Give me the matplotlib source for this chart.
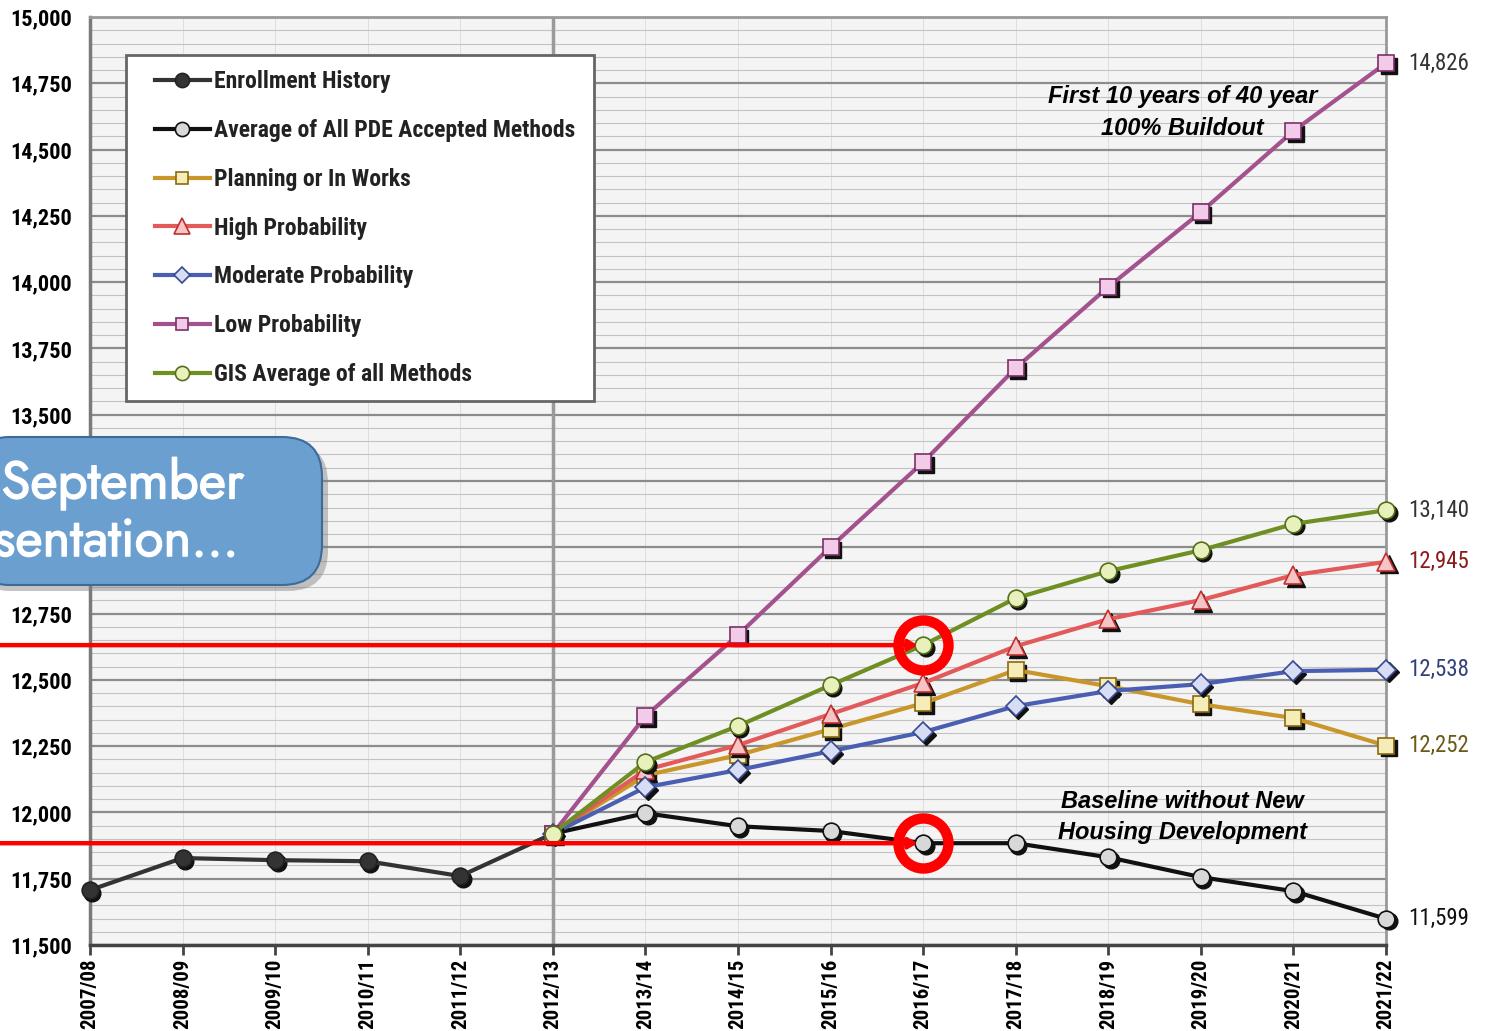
import numpy as np
import matplotlib
matplotlib.use('Agg')
import matplotlib.pyplot as plt
from matplotlib import transforms, patheffects
from matplotlib.patches import FancyBboxPatch, ConnectionPatch, Rectangle
from matplotlib.ticker import MultipleLocator, FuncFormatter

# school years on the x axis
years = ['2007/08', '2008/09', '2009/10', '2010/11', '2011/12', '2012/13', '2013/14',
         '2014/15', '2015/16', '2016/17', '2017/18', '2018/19', '2019/20', '2020/21', '2021/22']

# history runs 2007/08 - 2012/13, projections run 2012/13 - 2021/22
enrollment = [11707, 11828, 11820, 11816, 11760, 11920]
baseline = [11920, 11997, 11948, 11930, 11884, 11884, 11831, 11756, 11703, 11599]
planning = [11920, 12140, 12216, 12314, 12412, 12537, 12476, 12408, 12356, 12252]
high = [11920, 12160, 12254, 12371, 12488, 12627, 12729, 12801, 12895, 12945]
moderate = [11920, 12095, 12160, 12231, 12303, 12401, 12458, 12484, 12533, 12538]
low = [11920, 12363, 12669, 13001, 13321, 13676, 13982, 14264, 14570, 14826]
gis = [11920, 12190, 12326, 12480, 12631, 12808, 12910, 12989, 13088, 13140]

x = np.arange(len(years))
hx = x[:len(enrollment)]
px = x[len(enrollment) - 1:]
mark_year = years.index('2016/17')

narrow = ['Roboto Condensed', 'Archivo Narrow', 'DejaVu Sans']
round_font = ['Jost', 'Lato', 'DejaVu Sans']

fig = plt.figure(figsize=(14.87, 10.31), dpi=100)
ax = fig.add_axes([0.0605, 0.0834, 0.8716, 0.9001])
ax.set_facecolor('#f4f4f4')

shadow = transforms.offset_copy(ax.transData, fig=fig, x=2.5, y=-2.5, units='dots')

# (label, values, xs, line colour, marker, face colour, edge colour, label colour)
series = [
    ('Enrollment History', enrollment, hx, '#333333', 'o', '#333333', '#222222', None),
    ('Average of All PDE Accepted Methods', baseline, px, '#111111', 'o', '#d8d8d8', '#111111', '#111111'),
    ('Planning or In Works', planning, px, '#c9962c', 's', '#f6ecb8', '#8a6a10', '#6b5a18'),
    ('High Probability', high, px, '#e25a5a', '^', '#f6c4c4', '#c03030', '#8b1c1c'),
    ('Moderate Probability', moderate, px, '#4a5fb2', 'D', '#d6ddf4', '#3a4a90', '#33407a'),
    ('Low Probability', low, px, '#a4528e', 's', '#f2cbe8', '#7a3068', '#333333'),
    ('GIS Average of all Methods', gis, px, '#6f8f22', 'o', '#e8f0bc', '#55701a', '#333333'),
]
draw_order = [0, 5, 6, 3, 2, 4, 1]
sizes = {'o': 12, 's': 11, '^': 13, 'D': 10}

handles = {}
for i in draw_order:
    name, vals, xs, lc, mk, fc, ec, tc = series[i]
    ax.plot(xs, vals, ls='none', marker=mk, ms=sizes[mk], mfc='#111111', mec='#111111',
            transform=shadow, zorder=3 + i * 0.1, clip_on=False)
    h, = ax.plot(xs, vals, color=lc, lw=3, marker=mk, ms=sizes[mk], mfc=fc, mec=ec,
                 mew=1.2, label=name, zorder=3.05 + i * 0.1, clip_on=False)
    handles[i] = h
    if tc is not None:
        ax.annotate(f'{vals[-1]:,}', (xs[-1], vals[-1]), xytext=(16, 0),
                    textcoords='offset points', va='center', ha='left',
                    fontsize=16.5, color=tc, family=narrow)

# axes and grid
ax.set_xlim(x[0], x[-1])
ax.set_ylim(11500, 15000)
ax.yaxis.set_major_locator(MultipleLocator(250))
ax.yaxis.set_minor_locator(MultipleLocator(50))
ax.yaxis.set_major_formatter(FuncFormatter(lambda v, p: f'{v:,.0f}'))
ax.grid(which='major', axis='y', color='#8c8c8c', lw=1.6, zorder=0)
ax.grid(which='minor', axis='y', color='#c2c2c2', lw=0.8, zorder=0)
ax.grid(which='major', axis='x', color='#dedede', lw=0.7, zorder=0)
ax.set_axisbelow(True)
ax.axvline(x[len(enrollment) - 1], color='#9a9a9a', lw=2.5, zorder=1)

ax.set_xticks(x)
ax.set_xticklabels(years, rotation=90, fontsize=15, fontweight='bold', family=narrow)
ax.tick_params(axis='x', length=7, width=2, color='#444444', pad=3)
ax.tick_params(axis='y', which='both', length=0, pad=13)
fig.canvas.draw()
for lab in ax.get_yticklabels():
    lab.set_fontsize(16)
    lab.set_fontweight('bold')
    lab.set_family(narrow)
    # the callout box sits over these two
    if lab.get_text() in ('13,000', '13,250'):
        lab.set_visible(False)

for side, col in [('left', '#7a7a7a'), ('bottom', '#444444'), ('top', '#999999'), ('right', '#999999')]:
    ax.spines[side].set_color(col)
    ax.spines[side].set_linewidth(2.5 if side in ('left', 'bottom') else 2)

# legend: frame drawn separately so the entries can sit further in
ax.add_patch(Rectangle((0.0278, 0.5862), 0.3611, 0.3729, transform=ax.transAxes,
                       facecolor='white', edgecolor='#666666', lw=2, zorder=5.5))
leg = ax.legend(handles=[handles[i] for i in range(len(series))], loc='upper left',
                bbox_to_anchor=(0.0386, 0.959), borderaxespad=0, frameon=False,
                prop={'family': narrow, 'weight': 'bold', 'size': 17},
                labelspacing=1.09, handlelength=2.3, handletextpad=0.2,
                borderpad=0.65, markerscale=0.85)
for t in leg.get_texts():
    t.set_color('#222222')
leg.set_zorder(6)

# notes
ax.text(11.8, 14640, 'First 10 years of 40 year\n100% Buildout', ha='center', va='center',
        fontsize=17, fontweight='bold', style='italic', family='Liberation Sans',
        linespacing=1.45, zorder=5)
ax.text(11.8, 11982, 'Baseline without New\nHousing Development', ha='center', va='center',
        fontsize=17, fontweight='bold', style='italic', family='Liberation Sans',
        linespacing=1.45, zorder=5)

# red highlight lines and rings
edge = transforms.blended_transform_factory(fig.transFigure, ax.transData)
for val in [gis[mark_year - len(enrollment) + 1], baseline[mark_year - len(enrollment) + 1]]:
    con = ConnectionPatch(xyA=(0, val), coordsA=edge, xyB=(mark_year, val), coordsB=ax.transData,
                          arrowstyle='-|>,head_length=0.5,head_width=0.3', color='#ff0000',
                          lw=3.2, shrinkA=0, shrinkB=4, zorder=12)
    fig.add_artist(con)
    ax.plot([mark_year], [val], marker='o', ms=36, mfc='none', mec='#ff0000', mew=7.5,
            zorder=13, clip_on=False)

# callout box
ident = transforms.IdentityTransform()
fig.patches.append(FancyBboxPatch((-30, 1031 - 591), 358, 148, boxstyle='round,pad=0,rounding_size=40',
                                  transform=ident, facecolor='#7f7f7f', edgecolor='none',
                                  alpha=0.45, zorder=7))
fig.patches.append(FancyBboxPatch((-30, 1031 - 585), 352, 148, boxstyle='round,pad=0,rounding_size=40',
                                  transform=ident, facecolor='#6b9fd0', edgecolor='#3d6b99',
                                  lw=1.5, zorder=8))
thick = [patheffects.withStroke(linewidth=1.0, foreground='white')]
fig.text(0.001, 0.5306, 'September', color='white', fontsize=38, fontweight='bold',
         family=round_font, va='center', ha='left', zorder=9, path_effects=thick)
fig.text(-0.004, 0.4747, 'sentation...', color='white', fontsize=38, fontweight='bold',
         family=round_font, va='center', ha='left', zorder=9, path_effects=thick)

fig.savefig('out.png', dpi=100)
